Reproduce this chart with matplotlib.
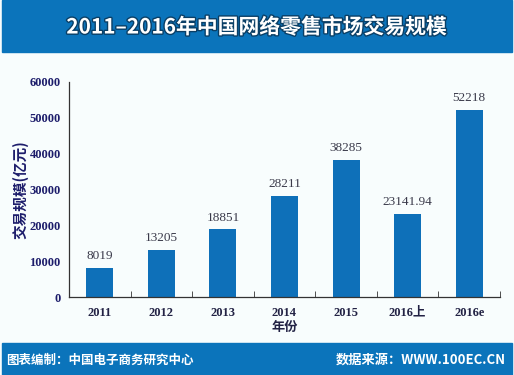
import matplotlib.pyplot as plt
import matplotlib.patches as patches
import matplotlib.patheffects as pe
import numpy as np

plt.rcParams['font.family'] = ['Noto Sans CJK SC', 'DejaVu Sans']

years = ["2011", "2012", "2013", "2014", "2015", "2016上", "2016e"]
values = [8019, 13205, 18851, 28211, 38285, 23141.94, 52218]
value_labels = ["8019", "13205", "18851", "28211", "38285", "23141.94", "52218"]
yticks = [0, 10000, 20000, 30000, 40000, 50000, 60000]

bar_color = "#0e70b9"
banner = "#0b74bb"
navy = "#1d1d6b"

fig = plt.figure(figsize=(5.14, 3.75), dpi=100)
fig.patch.set_facecolor("#f8fdfd")

# top and bottom banners
fig.patches.append(patches.Rectangle((0.004, 1 - 52 / 375), 0.992, 52 / 375,
                                     transform=fig.transFigure, color=banner, zorder=0))
fig.patches.append(patches.Rectangle((0.004, 0), 0.992, 32 / 375,
                                     transform=fig.transFigure, color=banner, zorder=0))

fig.text(0.5, 1 - 27 / 375, "2011–2016年中国网络零售市场交易规模", color="white",
         fontsize=15, fontweight="bold", ha="center", va="center",
         path_effects=[pe.withStroke(linewidth=2, foreground="#0a3f66")])
fig.text(0.012, 1 - 360 / 375, "图表编制：中国电子商务研究中心", color="white",
         fontsize=9, fontweight="bold", ha="left", va="center")
fig.text(0.984, 1 - 360 / 375, "数据来源：WWW.100EC.CN", color="white",
         fontsize=9.5, fontweight="bold", ha="right", va="center")

ax = fig.add_axes([69 / 514, 78 / 375, 431 / 514, 215 / 375])
ax.set_facecolor("none")
x = np.arange(len(years))
ax.bar(x, values, width=0.44, color=bar_color, zorder=2)
for xi, v, lab in zip(x, values, value_labels):
    ax.text(xi, v + 3300, lab, ha="center", va="center", fontsize=9.5,
            color="#3a3a4a", family=["Liberation Serif", "DejaVu Serif"])

ax.set_xlim(-0.5, len(years) - 0.5)
ax.set_ylim(0, 60000)
ax.set_yticks(yticks)
ax.set_yticklabels([str(t) for t in yticks], fontsize=9, fontweight="bold",
                   color=navy, family=["Liberation Serif", "DejaVu Serif"])
ax.tick_params(axis="y", length=0, pad=6)
ax.set_xticks(x)
ax.set_xticklabels(years, fontsize=9, fontweight="bold", color="#222244",
                   family=["Liberation Serif", "Noto Sans CJK SC"])
ax.tick_params(axis="x", length=0, pad=7)
ax.set_xticks(np.arange(0.5, len(years), 1.0), minor=True)
ax.tick_params(axis="x", which="minor", direction="in", length=4, color="#333333")

for s in ["top", "right"]:
    ax.spines[s].set_visible(False)
for s in ["left", "bottom"]:
    ax.spines[s].set_color("#333333")
    ax.spines[s].set_linewidth(0.9)

ax.set_xlabel("年份", fontsize=9.5, fontweight="bold", color="#222244", labelpad=1)
ax.set_ylabel("交易规模(亿元)", fontsize=10.5, fontweight="bold", color=navy)
ax.yaxis.set_label_coords(-0.094, 0.5)

fig.savefig("out.png", dpi=100, facecolor=fig.get_facecolor())
